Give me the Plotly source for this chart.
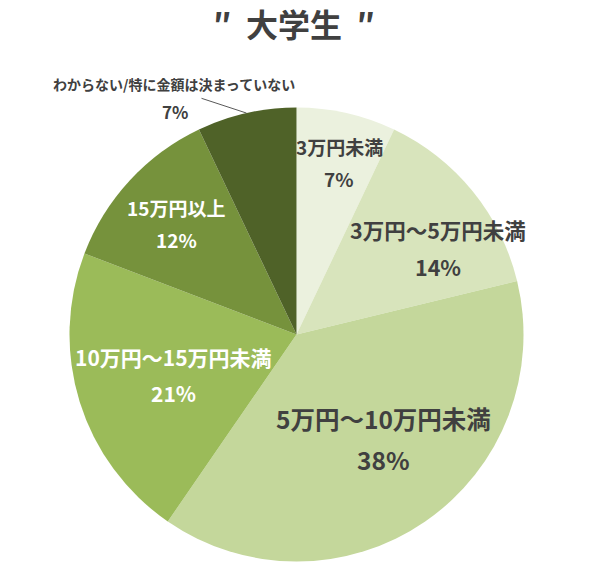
import math
import plotly.graph_objects as go

# データ（大学生の回答比率, %）
categories = ["3万円未満", "3万円～5万円未満", "5万円～10万円未満",
              "10万円～15万円未満", "15万円以上", "わからない/特に金額は決まっていない"]
values = [7, 14, 38, 21, 12, 7]
pct_labels = ["7%", "14%", "38%", "21%", "12%", "7%"]

colors = ["#EBF1DE", "#D8E4BC", "#C4D79B", "#9BBB59", "#76923C", "#4F6228"]
text_colors = ["#404040", "#404040", "#404040", "#FFFFFF", "#FFFFFF", "#404040"]
font_sizes = [19, 21.5, 24.5, 21, 19, 14]
# ラベル位置の微調整（半径の比率, 角度のずれ）
label_rf = [0.78, 0.73, 0.60, 0.57, 0.72]
label_dtheta = [1.3, 7.6, -5.4, -1.0, 0.0]

W, H = 589, 570
cx, cy, R = 296.5, 334.5, 227.0
FONT = "Noto Sans CJK JP"


def px(x, y):
    return x / W, 1 - y / H


x0, y0 = px(cx - R, cy + R)
x1, y1 = px(cx + R, cy - R)
fig = go.Figure(go.Pie(
    labels=categories,
    values=values,
    sort=False,
    direction="clockwise",
    rotation=0,
    marker=dict(colors=colors, line=dict(width=0)),
    textinfo="none",
    hoverinfo="label+percent",
    showlegend=False,
    domain=dict(x=[x0, x1], y=[y0, y1]),
))

total = sum(values)
cum = 0
annotations = []
for i, v in enumerate(values):
    mid = (cum + v / 2) / total * 360
    cum += v
    if i >= len(label_rf):
        continue
    th = math.radians(mid + label_dtheta[i])
    r = label_rf[i] * R
    x, y = px(cx + r * math.sin(th), cy - r * math.cos(th))
    gap = font_sizes[i] * 0.85
    for txt, shift in [(categories[i], gap), (pct_labels[i], -gap)]:
        annotations.append(dict(
            x=x, y=y, xref="paper", yref="paper", text=txt, showarrow=False,
            xanchor="center", yanchor="middle", yshift=shift,
            font=dict(family=FONT, size=font_sizes[i], color=text_colors[i], weight="bold"),
        ))

# 最後の項目は外側にラベル＋引き出し線
mid_last = (total - values[-1] / 2) / total * 360
th = math.radians(mid_last)
ex, ey = px(cx + R * math.sin(th), cy - R * math.cos(th))
sx, sy = px(201.5, 98.3)
fig.add_shape(type="line", xref="paper", yref="paper", x0=sx, y0=sy, x1=ex, y1=ey,
              line=dict(color="#595959", width=1))
lx, ly = px(174, 84)
annotations.append(dict(x=lx, y=ly, xref="paper", yref="paper", text=categories[-1], showarrow=False,
                        xanchor="center", yanchor="middle",
                        font=dict(family=FONT, size=font_sizes[-1], color=text_colors[-1], weight="bold")))
lx, ly = px(175, 112)
annotations.append(dict(x=lx, y=ly, xref="paper", yref="paper", text=pct_labels[-1], showarrow=False,
                        xanchor="center", yanchor="middle",
                        font=dict(family=FONT, size=17, color=text_colors[-1], weight="bold")))

# タイトル
tx, ty = px(294, 23)
annotations.append(dict(x=tx, y=ty, xref="paper", yref="paper", text="″\u00a0 大学生 \u00a0″",
                        showarrow=False, xanchor="center", yanchor="middle",
                        font=dict(family=FONT, size=32, color="#404040", weight="bold")))

fig.update_layout(
    width=W, height=H,
    margin=dict(l=0, r=0, t=0, b=0),
    paper_bgcolor="white",
    plot_bgcolor="white",
    annotations=annotations,
)

# ページ本体の既定余白を消す
fig.write_html("out.html", config={"displayModeBar": False},
               post_script="document.body.style.margin='0';")
